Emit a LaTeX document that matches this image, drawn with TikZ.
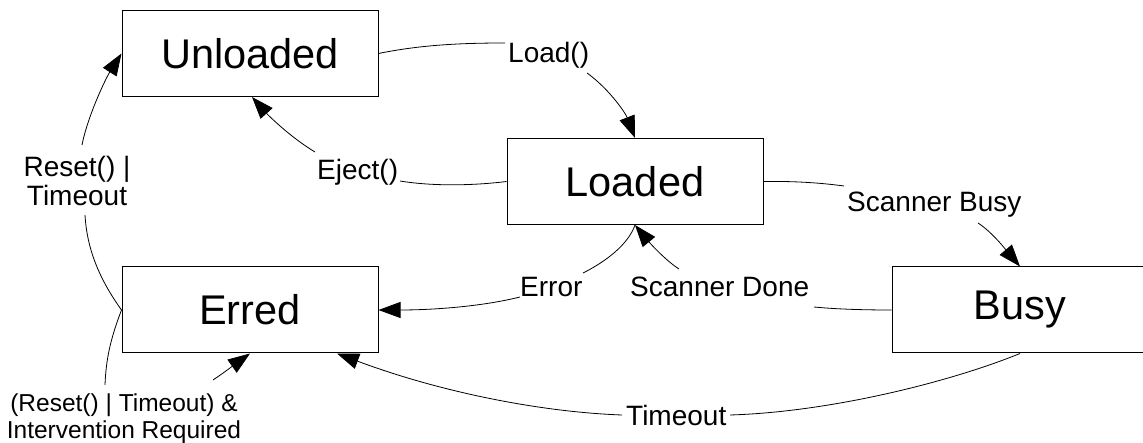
\documentclass[tikz,border=0pt]{standalone}
\usepackage{fontspec}
\setmainfont{Liberation Sans}
\usetikzlibrary{arrows.meta}
\begin{document}
\begin{tikzpicture}[x=1pt,y=-1pt,
  state/.style={draw=black, line width=1pt, minimum width=256pt, minimum height=86pt, inner sep=0pt, font=\fontsize{41.5}{48}\selectfont},
  lbl/.style={inner sep=0pt, anchor=base west, font=\fontsize{28}{29}\selectfont},
  mlbl/.style={inner sep=0pt, align=center, font=\fontsize{28}{29}\selectfont},
  slbl/.style={inner sep=0pt, align=center, font=\fontsize{24.5}{27}\selectfont},
  conn/.style={line width=0.8pt, black},
  arr/.style={conn, -{Triangle[length=22pt,width=16pt]}}]
\useasboundingbox (0,0) rectangle (1143,443);

% states
\node[state] (unl) at (250,53.5) {Unloaded};
\node[state] (ld) at (635,181.5) {Loaded};
\node[state] (err) at (250,310) {Erred};
\node[state] (busy) at (1020,310) {Busy};

% labels
\node[lbl] (lload) at (508,63) {Load()};
\node[lbl] (leject) at (317,180) {Eject()};
\node[lbl] (lsbusy) at (847,212) {Scanner Busy};
\node[lbl] (lsdone) at (630,297) {Scanner Done};
\node[lbl] (lerror) at (520,297) {Error};
\node[lbl] (ltime) at (626,425) {Timeout};
\node[mlbl] (lreset) at (77,180.5) {Reset() |\\Timeout};
\node[slbl] (lint) at (124,418.5) {(Reset() | Timeout) \&\\Intervention Required};

% label attachment points
\coordinate (loadin) at (505,43);
\coordinate (loadout) at (587,73);
\coordinate (ejectin) at (400,181);
\coordinate (ejectout) at (315,152);
\coordinate (sbusyin) at (844,186);
\coordinate (sbusyout) at (978,223);
\coordinate (sdonein) at (814,307);
\coordinate (sdoneout) at (679,269);
\coordinate (errorin) at (583,273);
\coordinate (errorout) at (520,297);
\coordinate (resetin) at (85,215);
\coordinate (resetout) at (82,145);
\coordinate (intin) at (105,385);
\coordinate (intout) at (213,380);
\coordinate (timein) at (730,415);
\coordinate (timeout) at (622,415);

% Unloaded -> Loaded
\draw[conn] (unl.east) .. controls (420,45) and (460,43) .. (loadin);
\draw[arr] (loadout) .. controls (608,88) and (625,112) .. (ld.north);
% Loaded -> Unloaded
\draw[conn] (ld.west) .. controls (470,186) and (430,186) .. (ejectin);
\draw[arr] (ejectout) .. controls (290,137) and (268,115) .. ([xshift=2pt]unl.south);
% Loaded -> Busy
\draw[conn] (ld.east) .. controls (795,181) and (822,183) .. (sbusyin);
\draw[arr] (sbusyout) .. controls (992,232) and (1006,250) .. (busy.north);
% Busy -> Loaded
\draw[conn] (busy.west) .. controls (860,310) and (835,309) .. (sdonein);
\draw[arr] (sdoneout) .. controls (662,258) and (644,236) .. (ld.south);
% Loaded -> Erred
\draw[conn] (ld.south) .. controls (628,245) and (605,262) .. (errorin);
\draw[arr] (errorout) .. controls (480,307) and (430,310) .. (err.east);
% Erred -> Unloaded
\draw[conn] (err.west) .. controls (100,280) and (87,250) .. (resetin);
\draw[arr] (resetout) .. controls (88,115) and (106,78) .. (unl.west);
% Erred -> Erred
\draw[conn] (err.west) .. controls (110,340) and (106,360) .. (intin);
\draw[arr] (intout) .. controls (225,372) and (238,362) .. (err.south);
% Busy -> Erred
\draw[conn] (busy.south) .. controls (950,382) and (830,412) .. (timein);
\draw[arr] (timeout) .. controls (540,412) and (440,392) .. ([xshift=87pt]err.south);
\end{tikzpicture}
\end{document}
